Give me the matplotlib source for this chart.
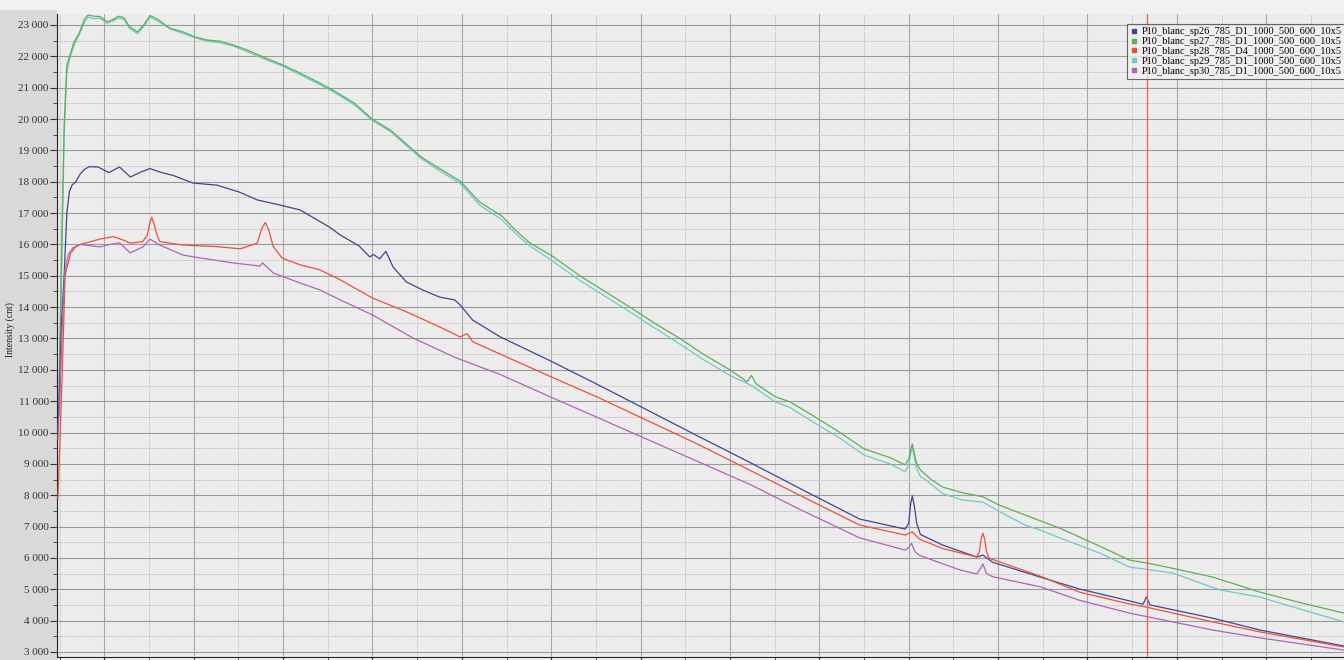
import matplotlib
matplotlib.use("Agg")
import matplotlib.pyplot as plt
from matplotlib.ticker import MultipleLocator, FuncFormatter
from matplotlib.patches import Rectangle

# -----------------------------------------------------------
# Spectra (x in shift units, y in counts)
# -----------------------------------------------------------
sp26_x = [48, 50, 52, 55, 58, 61, 64, 68, 73, 78, 83, 93, 105, 117, 129, 140, 151, 163, 177,
          199, 226, 251, 271, 296, 319, 352, 364, 385, 397, 401, 408, 415, 423, 438, 456, 475,
          492, 498, 512, 543, 598, 654, 710, 766, 822, 878, 945, 996, 1000, 1002, 1004, 1006,
          1009, 1013, 1038, 1076, 1083, 1094, 1147, 1191, 1247, 1262, 1266, 1270, 1340, 1393, 1487]
sp26_y = [10100, 11500, 13500, 15000, 17000, 17700, 17900, 18000, 18250, 18400, 18480, 18470,
          18290, 18470, 18150, 18300, 18420, 18300, 18200, 17960, 17890, 17670, 17420, 17260,
          17100, 16550, 16300, 15950, 15600, 15680, 15540, 15780, 15280, 14800, 14550, 14320,
          14230, 14070, 13590, 13050, 12300, 11500, 10680, 9860, 9050, 8220, 7240, 6920, 7100,
          7700, 7980, 7700, 7100, 6750, 6410, 6030, 6090, 5860, 5390, 5010, 4630, 4520, 4750,
          4500, 4080, 3700, 3190]

sp27_x = [49, 52, 55, 58, 61, 66, 72, 78, 82, 88, 95, 103, 110, 116, 122, 128, 137, 144, 151,
          160, 173, 188, 201, 215, 230, 244, 260, 276, 300, 320, 341, 360, 380, 400, 420, 440,
          455, 475, 498, 520, 545, 560, 576, 600, 632, 660, 688, 716, 744, 770, 800, 819, 824,
          829, 850, 867, 895, 923, 950, 979, 996, 1000, 1002, 1004, 1006, 1009, 1013, 1025,
          1038, 1060, 1083, 1100, 1130, 1169, 1190, 1214, 1247, 1270, 1300, 1340, 1393, 1440, 1487]
sp27_y = [11000, 15500, 19800, 21700, 22000, 22450, 22750, 23200, 23320, 23280, 23270, 23100,
          23180, 23280, 23230, 22950, 22780, 23000, 23300, 23180, 22900, 22780, 22620, 22520,
          22480, 22360, 22200, 22000, 21720, 21450, 21150, 20850, 20500, 19990, 19650, 19150,
          18780, 18420, 18020, 17350, 16900, 16450, 16050, 15650, 15000, 14500, 14000, 13480,
          13000, 12500, 12000, 11620, 11820, 11560, 11150, 10980, 10500, 10000, 9480, 9200,
          8970, 9150, 9450, 9640, 9350, 9000, 8810, 8500, 8260, 8080, 7950, 7700, 7370, 6950,
          6680, 6370, 5930, 5820, 5640, 5390, 4910, 4560, 4240]

sp28_x = [48, 50, 53, 56, 62, 67, 73, 95, 110, 121, 129, 143, 148, 151, 153, 155, 159, 162,
          188, 226, 252, 271, 276, 280, 284, 289, 299, 319, 341, 364, 400, 438, 475, 498, 506,
          512, 543, 598, 654, 710, 766, 822, 878, 945, 996, 1004, 1012, 1038, 1076, 1079, 1081,
          1083, 1085, 1087, 1090, 1147, 1191, 1247, 1266, 1340, 1393, 1487]
sp28_y = [7900, 9500, 12000, 15000, 15700, 15900, 16000, 16170, 16250, 16140, 16040, 16090,
          16300, 16700, 16870, 16700, 16300, 16090, 15980, 15930, 15860, 16040, 16500, 16700,
          16450, 15930, 15560, 15350, 15190, 14870, 14290, 13850, 13370, 13050, 13150, 12900,
          12500, 11800, 11100, 10350, 9600, 8800, 8000, 7050, 6730, 6830, 6600, 6300, 6030,
          6200, 6600, 6790, 6600, 6200, 5990, 5420, 4910, 4530, 4430, 3960, 3640, 3160]

sp29_x = [49, 52, 55, 58, 61, 66, 72, 78, 82, 88, 95, 103, 110, 116, 122, 128, 137, 144, 151,
          160, 173, 188, 201, 215, 230, 244, 260, 276, 300, 320, 341, 360, 380, 400, 420, 440,
          455, 475, 498, 520, 545, 560, 576, 600, 632, 660, 688, 716, 744, 770, 800, 824, 850,
          867, 895, 923, 950, 979, 996, 1000, 1002, 1004, 1006, 1009, 1013, 1020, 1038, 1060,
          1083, 1100, 1130, 1147, 1169, 1214, 1247, 1295, 1348, 1393, 1440, 1487]
sp29_y = [10500, 15000, 19500, 21500, 21900, 22350, 22700, 23100, 23250, 23200, 23220, 23050,
          23130, 23220, 23180, 22900, 22720, 22950, 23250, 23120, 22880, 22730, 22600, 22480,
          22430, 22330, 22150, 21950, 21680, 21400, 21100, 20800, 20450, 19950, 19600, 19100,
          18730, 18350, 17950, 17250, 16780, 16350, 15950, 15500, 14850, 14350, 13850, 13330,
          12820, 12330, 11820, 11500, 10990, 10800, 10300, 9820, 9280, 9000, 8750, 8950, 9300,
          9550, 9250, 8850, 8600, 8470, 8050, 7850, 7780, 7500, 7050, 6890, 6640, 6150, 5710,
          5520, 4980, 4750, 4350, 3960]

sp30_x = [48, 50, 53, 56, 60, 65, 73, 95, 106, 117, 129, 143, 151, 162, 188, 207, 244, 274,
          277, 289, 319, 341, 364, 400, 445, 492, 543, 598, 654, 710, 766, 822, 878, 945, 996,
          1000, 1003, 1007, 1012, 1020, 1057, 1076, 1080, 1083, 1087, 1094, 1147, 1191, 1247,
          1340, 1393, 1487]
sp30_y = [9800, 11000, 13500, 15200, 15700, 15900, 16000, 15920, 16000, 16050, 15730, 15920,
          16170, 15980, 15660, 15570, 15410, 15310, 15410, 15090, 14770, 14550, 14230, 13750,
          13020, 12400, 11850, 11150, 10450, 9750, 9050, 8350, 7550, 6640, 6250, 6330, 6470,
          6200, 6080, 6000, 5620, 5490, 5650, 5810, 5500, 5400, 5080, 4650, 4240, 3700, 3450, 3060]

labels = ["P10_blanc_sp26_785_D1_1000_500_600_10x5",
          "P10_blanc_sp27_785_D1_1000_500_600_10x5",
          "P10_blanc_sp28_785_D4_1000_500_600_10x5",
          "P10_blanc_sp29_785_D1_1000_500_600_10x5",
          "P10_blanc_sp30_785_D1_1000_500_600_10x5"]
colors = ["#3f4690", "#5fae55", "#ee4f3c", "#6ccac4", "#b064b4"]
cursor_x = 1267

series = [(sp26_x, sp26_y), (sp27_x, sp27_y), (sp28_x, sp28_y),
          (sp29_x, sp29_y), (sp30_x, sp30_y)]

# -----------------------------------------------------------
# Figure / axes
# -----------------------------------------------------------
plt.rcParams['font.family'] = ['Liberation Serif', 'DejaVu Serif']

fig = plt.figure(figsize=(13.44, 6.6), dpi=100, facecolor="#f1f1f1")
# grey band behind the y axis labels
fig.patches.append(Rectangle((0, 0), 57 / 1344, 1 - 10 / 660, transform=fig.transFigure,
                             facecolor="#d9d9d9", edgecolor="none", zorder=-10))

ax = fig.add_axes([57 / 1344, 3 / 660, 1 - 57 / 1344, 643 / 660])
ax.set_facecolor("#ececec")

# cyan under green so green stays on top like the print
for i in [3, 1, 0, 2, 4]:
    xs, ys = series[i]
    ax.plot(xs, ys, color=colors[i], lw=0.9, zorder=3)

ax.axvline(cursor_x, color="#f05a5a", lw=0.9, zorder=4)

ax.set_xlim(47, 1487)
ax.set_ylim(2840, 23350)

ax.yaxis.set_major_locator(MultipleLocator(1000))
ax.yaxis.set_minor_locator(MultipleLocator(500))
ax.xaxis.set_major_locator(MultipleLocator(100))
ax.xaxis.set_minor_locator(MultipleLocator(50))
ax.yaxis.set_major_formatter(FuncFormatter(lambda v, p: f"{int(v):,}".replace(",", " ")))
ax.tick_params(axis="x", which="both", labelbottom=False, length=4, color="#333333")
ax.tick_params(axis="y", which="major", labelsize=8, length=5, pad=1,
               color="#333333", labelcolor="#333333")
ax.tick_params(axis="y", which="minor", length=3, color="#333333")

ax.grid(which="major", axis="y", color="#9a9a9a", lw=0.8)
ax.grid(which="minor", axis="y", color="#c4c4c4", lw=0.6, ls=(0, (3, 1)))
ax.grid(which="major", axis="x", color="#a8a8a8", lw=0.8)
ax.grid(which="minor", axis="x", color="#c6c6c6", lw=0.6, ls=(0, (3, 1)))
ax.set_axisbelow(True)

for s in ["top", "right"]:
    ax.spines[s].set_visible(False)
ax.spines["left"].set_color("#222222")
ax.spines["bottom"].set_color("#222222")

fig.text(10 / 1344, 0.5, "Intensity (cnt)", rotation=90, va="center", ha="center",
         fontsize=7, color="#222222")

handles = [plt.Line2D([], [], ls="none", marker="s", ms=3.5, color=c) for c in colors]
leg = fig.legend(handles, labels, loc="upper left", bbox_to_anchor=(1127 / 1344, 1 - 24 / 660),
                 bbox_transform=fig.transFigure, fontsize=7.5, frameon=True, fancybox=False,
                 handlelength=0.8, handletextpad=0.3, labelspacing=0.05, borderpad=0.3,
                 borderaxespad=0)
leg.get_frame().set_edgecolor("#444444")
leg.get_frame().set_facecolor("#f0f0f0")
leg.get_frame().set_linewidth(0.8)

fig.savefig("out.png", dpi=100, facecolor=fig.get_facecolor())
